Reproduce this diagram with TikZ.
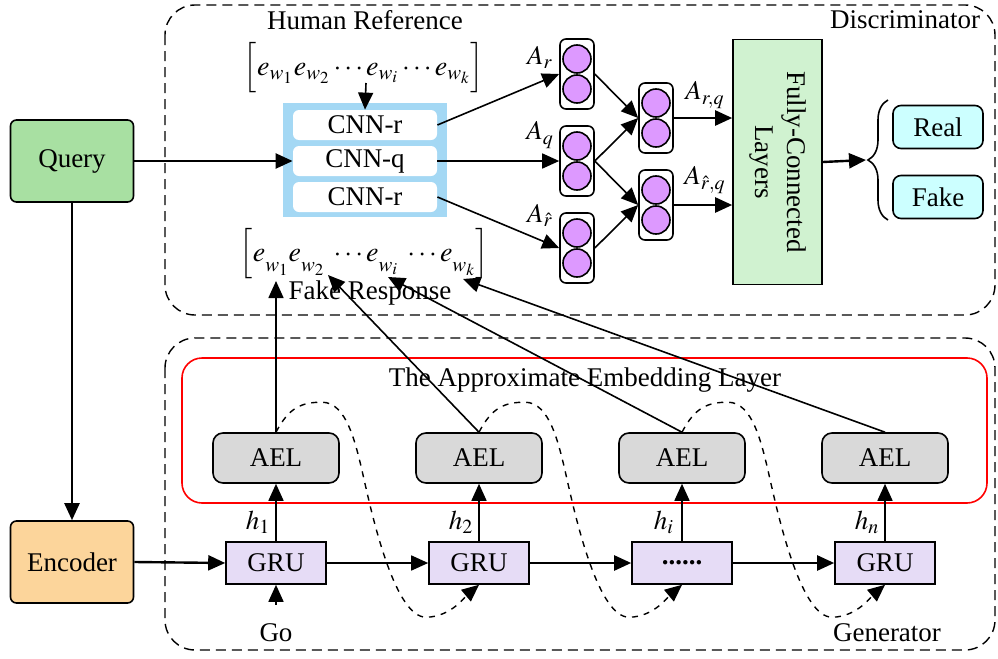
\documentclass[tikz,border=0pt]{standalone}
\usepackage{mathptmx}
\usepackage{fontspec}
\setmainfont{Liberation Serif}
\usepackage{tikz}
\usetikzlibrary{arrows.meta}
\usetikzlibrary{decorations.pathreplacing}
\definecolor{vert}{RGB}{168,224,162}
\definecolor{orangepale}{RGB}{252,213,155}
\definecolor{vertpale}{RGB}{208,242,208}
\definecolor{bleu}{RGB}{164,216,244}
\definecolor{mauve}{RGB}{221,153,255}
\definecolor{gris}{RGB}{217,217,217}
\definecolor{lavande}{RGB}{230,220,246}
\definecolor{cyanpale}{RGB}{204,255,255}

\begin{document}
\begin{tikzpicture}[x=0.5pt,y=-0.5pt,
				font=\fontsize{13.5}{16}\selectfont,
				>={Triangle[length=8.5pt,width=7.5pt]},
				box/.style = {draw, line width=0.8pt, inner sep=0pt},
				panel/.style = {draw, dash pattern=on 5pt off 3pt, line width=0.7pt, rounded corners=15pt},
				cell/.style = {circle, draw, line width=0.8pt, fill=mauve, minimum size=14pt, inner sep=0pt},
				vec/.style = {box, rounded corners=3pt, fill=white, minimum width=17pt, minimum height=35pt},
				cnn/.style = {fill=white, rounded corners=3pt, minimum width=72pt, minimum height=15pt, inner sep=0pt},
				ael/.style = {box, rounded corners=5pt, fill=gris, minimum width=63pt, minimum height=25pt},
				gru/.style = {box, fill=lavande, minimum width=50pt, minimum height=21pt},
				link/.style = {->, line width=0.8pt},
				bold/.style = {->, line width=1.2pt},
				recur/.style = {->, dashed, line width=0.7pt}]
				
				\useasboundingbox (0,0) rectangle (998,659);
				
				% Query and Encoder
				\node[box, rounded corners=3pt, fill=vert, minimum width=61.5pt, minimum height=41pt] (query) at (72,161) {Query};
				\node[box, rounded corners=3pt, fill=orangepale, minimum width=61.5pt, minimum height=41pt] (encoder) at (72,562) {Encoder};
				\draw[bold] (query.south) -- (encoder.north);
				
				% Discriminator
				\draw[panel] (165,5) rectangle (995,315);
				\node (hr) at (365,20) {Human Reference};
				\node (disc) at (905,20) {Discriminator};
				\node (fr) at (370,293) {Fake Response};
				
				\node[fill=bleu, minimum width=82pt, minimum height=57pt] (cnn) at (365,160) {};
				\node[cnn] (cnn1) at (365,125) {CNN-r};
				\node[cnn] (cnn2) at (365,161) {CNN-q};
				\node[cnn] (cnn3) at (365,197) {CNN-r};
				
				\node[font=\fontsize{14}{17}\selectfont] (hvec) at (364,68)
					{$\left[\rule{0pt}{15pt} e_{w_1} e_{w_2} \cdots e_{w_i} \cdots e_{w_k}\right]$};
				\node[font=\fontsize{14}{17}\selectfont] (fvec) at (364,254)
					{$\left[\rule{0pt}{15pt} e\lower5pt\hbox{$\scriptstyle w_{1}$} e\lower5pt\hbox{$\scriptstyle w_{2}$}\; \cdots e\lower5pt\hbox{$\scriptstyle w_{i}$}\; \cdots e\lower5pt\hbox{$\scriptstyle w_{k}$}\right]$};
				\coordinate (hwi) at (366,83);
				\coordinate (fw1) at (276,281);
				\coordinate (fw2) at (328,275);
				\coordinate (fwi) at (388,277);
				\coordinate (fwk) at (463,279);
				
				\foreach \n/\x/\y in {v1/577/74, v2/577/161, v3/577/248, v4/656/118, v5/656/205}{
					\node[vec] (\n) at (\x,\y) {};
					\node[cell] at (\x,\y-15) {};
					\node[cell] at (\x,\y+15) {};
				}
				
				\draw[bold] (query.east) -- (cnn2.west);
				\draw[link] (hwi) -- (cnn1.north);
				\draw[link] (cnn1.east) -- (v1.west);
				\draw[link] (cnn2.east) -- (v2.west);
				\draw[link] (cnn3.east) -- (v3.west);
				\draw[link] (v1.east) -- (v4.west);
				\draw[link] (v2.east) -- (v4.west);
				\draw[link] (v2.east) -- (v5.west);
				\draw[link] (v3.east) -- (v5.west);
				\node at (540,57) {$A_r$};
				\node at (540,135) {$A_q$};
				\node at (540,215) {$A_{\hat{r}}$};
				
				\node[box, fill=vertpale, minimum width=44.5pt, minimum height=122.5pt] (fc) at (777.5,162) {};
				\node[rotate=-90, align=center] at (fc.center) {Fully-Connected\\Layers};
				\draw[bold] (v4.east) -- (v4.east -| fc.west);
				\draw[bold] (v5.east) -- (v5.east -| fc.west);
				\node at (705,95) {$A_{r,q}$};
				\node at (705,180) {$A_{\hat{r},q}$};
				
				\draw[decorate, decoration={brace, amplitude=10pt}, line width=0.8pt] (888,220) -- (888,100);
				\coordinate (tip) at (866,160);
				\draw[bold] (fc.east) -- (tip);
				\node[box, rounded corners=4pt, fill=cyanpale, minimum width=45pt, minimum height=21.5pt] (real) at (938,127) {Real};
				\node[box, rounded corners=4pt, fill=cyanpale, minimum width=45pt, minimum height=21.5pt] (fake) at (938,197) {Fake};
				
				% Generator
				\draw[panel] (165,338) rectangle (995,650);
				\draw[red, line width=0.8pt, rounded corners=10pt] (182,358) rectangle (987,503);
				\node (ael-title) at (585,380) {The Approximate Embedding Layer};
				\node (gen) at (887,633) {Generator};
				\node (go) at (276,633) {Go};
				
				\foreach \i/\x/\t/\h in {1/276/GRU/h_1, 2/479/GRU/h_2, 3/682/{\bfseries ......}/h_i, 4/885/GRU/h_n}{
					\node[ael] (ael\i) at (\x,458) {AEL};
					\node[gru] (gru\i) at (\x,563) {\t};
					\draw[link] (gru\i.north) -- (ael\i.south);
					\node at (\x-18,522) {$\h$};
				}
				
				\draw[bold] (encoder.east) -- (gru1.west);
				\draw[link] ([yshift=6pt]go.north) -- (gru1.south);
				\draw[link] (gru1.east) -- (gru2.west);
				\draw[bold] (gru2.east) -- (gru3.west);
				\draw[bold] (gru3.east) -- (gru4.west);
				
				% Output to fake response
				\draw[link] (ael1.north) -- (fw1);
				\draw[link] (ael2.north) -- (fw2);
				\draw[link] (ael3.north) -- (fwi);
				\draw[link] (ael4.north) -- (fwk);
				
				% Recurrence
				\foreach \i/\j in {1/2, 2/3, 3/4}
					\draw[recur] (ael\i.north) .. controls +(13,-25) and +(-20,0) .. ++(46,-30)
						.. controls +(25,0) and +(-8,-35) .. ++(42,77)
						.. controls +(10,45) and +(-30,0) .. ++(62,138)
						.. controls +(25,0) and +(-12,10) .. (gru\j.south);
				
			\end{tikzpicture}
\end{document}
